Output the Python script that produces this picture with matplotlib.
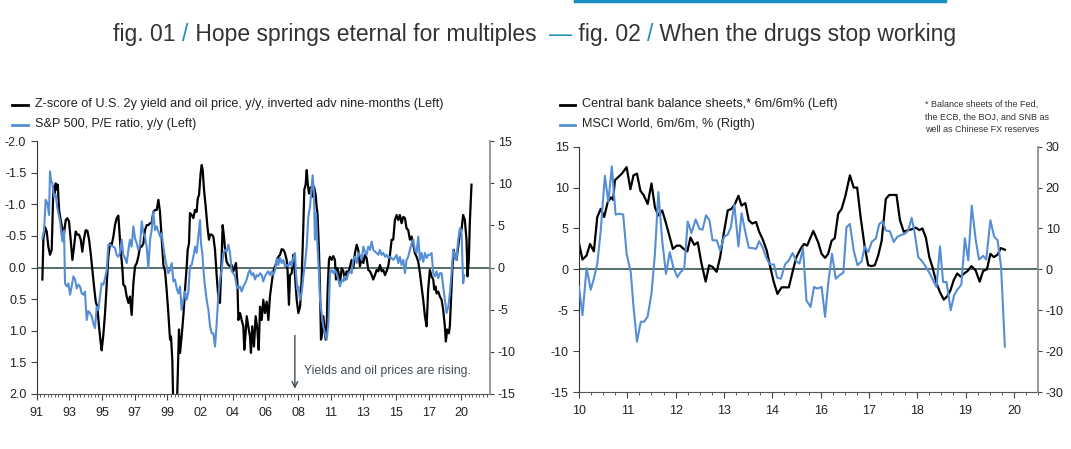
import matplotlib
matplotlib.use("Agg")
import matplotlib.pyplot as plt
from matplotlib.lines import Line2D
from matplotlib.ticker import MultipleLocator, FixedLocator, FormatStrFormatter

plt.rcParams["font.family"] = ["Liberation Sans", "DejaVu Sans"]
plt.rcParams["axes.unicode_minus"] = False

# ---------------- fig. 01 data (x = months counted from the "91" label) ----------------
zscore_month = [
    4.7, 5.5, 6.9, 8.3, 9.6, 11.0, 12.4, 13.8, 14.6, 15.7, 16.5, 17.4, 18.5, 19.8, 21.2, 22.6,
    24.0, 25.3, 26.7, 28.1, 29.5, 30.9, 32.2, 33.6, 35.0, 36.4, 37.7, 39.1, 40.5, 41.9, 43.3,
    44.6, 46.0, 47.4, 48.8, 50.1, 51.5, 52.9, 53.7, 55.1, 56.5, 57.9, 59.2, 60.6, 62.0, 63.4,
    64.7, 66.1, 67.5, 68.3, 69.4, 70.8, 71.6, 73.0, 74.4, 75.8, 77.1, 78.5, 79.9, 81.3, 82.7,
    84.0, 85.4, 86.8, 88.2, 89.5, 90.9, 92.3, 93.7, 95.0, 96.4, 97.8, 99.2, 100.6, 101.9, 103.3,
    104.7, 106.1, 107.4, 108.8, 110.2, 111.0, 112.1, 113.0, 114.3, 115.7, 116.5, 117.6, 118.5,
    119.8, 121.2, 122.6, 124.0, 124.8, 125.9, 126.7, 128.1, 129.5, 130.9, 132.2, 133.1, 134.2,
    135.5, 136.4, 137.2, 138.3, 139.7, 141.1, 142.4, 143.3, 144.6, 146.0, 147.4, 148.8, 150.1,
    151.5, 152.9, 153.7, 154.8, 155.7, 157.0, 158.4, 159.8, 161.2, 162.5, 163.9, 164.7, 165.9,
    166.7, 168.1, 169.4, 170.8, 171.6, 172.7, 173.6, 174.9, 176.3, 177.1, 178.2, 179.6, 181.0,
    182.4, 183.5, 184.6, 186.0, 187.3, 188.7, 190.1, 191.5, 192.8, 194.2, 195.6, 197.0, 198.4,
    199.7, 201.1, 202.5, 203.9, 205.2, 206.6, 207.4, 208.5, 209.4, 210.8, 212.1, 213.0, 214.1,
    214.9, 216.3, 217.7, 219.0, 220.4, 221.2, 222.3, 223.2, 224.0, 225.1, 225.9, 227.3, 228.1,
    229.2, 230.6, 231.4, 232.2, 233.3, 234.2, 235.0, 236.1, 236.9, 237.8, 238.9, 239.7, 240.5,
    241.6, 242.4, 243.8, 245.2, 246.5, 247.4, 248.5, 249.3, 250.7, 252.1, 253.5, 254.8, 256.2,
    257.6, 259.0, 260.3, 261.7, 263.1, 264.5, 265.8, 267.2, 268.6, 270.0, 271.3, 272.7, 274.1,
    275.5, 276.9, 278.2, 279.6, 281.0, 282.4, 283.7, 285.1, 286.5, 287.9, 289.2, 290.6, 292.0,
    293.4, 294.7, 296.1, 297.5, 298.9, 300.2, 301.6, 303.0, 304.4, 305.7, 307.1, 308.5, 309.9,
    311.3, 312.6, 314.0, 315.4, 316.8, 318.1, 319.5, 320.9, 322.3, 323.6, 325.0, 326.4, 327.8,
    328.6, 329.7, 330.5, 331.9, 333.3, 334.7, 336.0, 337.4, 338.2, 339.3, 340.7, 341.5, 342.9,
    343.7, 344.8, 345.6, 347.0, 348.4, 349.8, 351.1, 352.5, 353.9, 355.3, 356.1, 357.2, 358.0,
    359.4,
]
zscore_value = [
    0.19, -0.44, -0.64, -0.57, -0.33, -0.20, -0.28, -1.28, -1.17, -1.33, -1.23, -1.31, -0.91,
    -0.75, -0.62, -0.54, -0.75, -0.78, -0.73, -0.44, -0.12, -0.33, -0.57, -0.52, -0.52, -0.44,
    -0.25, -0.46, -0.59, -0.58, -0.44, -0.23, 0.04, 0.30, 0.54, 0.62, 0.93, 1.19, 1.31, 1.06,
    0.72, 0.25, -0.17, -0.38, -0.36, -0.49, -0.67, -0.78, -0.82, -0.59, -0.28, 0.01, 0.27, 0.30,
    0.46, 0.56, 0.46, 0.75, 0.25, -0.02, -0.07, -0.17, -0.33, -0.33, -0.38, -0.59, -0.67, -0.67,
    -0.70, -0.70, -0.88, -0.91, -0.91, -1.07, -0.88, -0.46, -0.04, 0.06, 0.35, 0.72, 1.14, 1.09,
    1.46, 2.30, 2.30, 2.30, 1.77, 0.98, 1.35, 1.09, 0.77, 0.35, -0.02, -0.28, -0.38, -0.86, -0.83,
    -0.78, -0.91, -0.88, -1.09, -1.15, -1.49, -1.62, -1.54, -1.23, -0.96, -0.65, -0.44, -0.52,
    -0.52, -0.49, -0.28, 0.14, 0.46, 0.56, -0.17, -0.67, -0.49, -0.28, -0.09, -0.04, -0.02, -0.04,
    0.06, -0.02, -0.07, 0.25, 0.83, 0.72, 0.83, 0.93, 1.30, 1.04, 0.77, 0.93, 1.09, 1.35, 0.93,
    1.25, 0.77, 0.98, 1.30, 0.62, 0.83, 0.51, 0.72, 0.54, 0.83, 0.46, 0.25, 0.06, -0.02, -0.09,
    -0.17, -0.20, -0.29, -0.28, -0.23, -0.12, 0.06, 0.59, 0.12, 0.09, -0.20, -0.02, 0.30, 0.51,
    0.72, 0.62, 0.19, -0.65, -1.23, -1.31, -1.54, -1.33, -1.17, -1.25, -1.28, -1.12, -1.28,
    -1.15, -0.96, -0.83, -0.28, 0.35, 1.14, 1.04, 0.77, 0.93, 1.14, 0.93, 0.35, -0.12, -0.17,
    -0.12, -0.18, -0.12, 0.19, 0.01, 0.06, 0.25, 0.01, 0.06, 0.19, 0.06, 0.09, -0.02, -0.12,
    0.01, -0.23, -0.36, -0.28, -0.02, -0.15, -0.07, -0.20, -0.15, 0.04, 0.06, 0.12, 0.19, 0.12,
    0.04, 0.06, -0.04, 0.06, 0.04, 0.12, 0.06, -0.02, -0.20, -0.44, -0.44, -0.75, -0.83, -0.75,
    -0.83, -0.70, -0.80, -0.78, -0.62, -0.59, -0.44, -0.49, -0.36, -0.23, -0.17, -0.09, 0.09,
    0.30, 0.51, 0.77, 0.93, 0.35, 0.04, 0.14, 0.19, 0.35, 0.30, 0.41, 0.38, 0.46, 0.51, 0.67,
    0.93, 1.17, 0.98, 1.04, 0.93, 0.30, -0.02, -0.28, -0.17, -0.12, -0.33, -0.54, -0.59, -0.83,
    -0.75, -0.44, 0.14, -0.12, -0.70, -1.31,
]

pe_month = [
    4.7, 6.1, 7.4, 8.8, 10.2, 11.0, 11.8, 12.9, 14.3, 15.7, 17.1, 17.9, 19.3, 20.7, 21.5, 22.6,
    23.4, 24.8, 26.2, 27.6, 28.9, 30.3, 31.7, 33.1, 34.4, 35.8, 37.2, 38.6, 39.9, 41.3, 42.7,
    44.1, 45.5, 46.8, 48.2, 49.6, 51.0, 52.3, 53.7, 55.1, 56.5, 57.9, 59.2, 60.6, 62.0, 63.4,
    64.7, 66.1, 67.5, 68.9, 70.3, 71.6, 73.0, 74.4, 75.8, 77.1, 78.5, 79.9, 81.3, 82.7, 84.0,
    85.4, 86.8, 88.2, 89.5, 90.9, 92.3, 93.7, 95.0, 96.4, 97.8, 99.2, 100.6, 101.9, 103.3, 104.7,
    106.1, 107.4, 108.8, 110.2, 111.6, 113.0, 114.3, 115.7, 117.1, 118.5, 119.8, 121.2, 122.6,
    124.0, 125.4, 126.7, 128.1, 129.5, 130.9, 132.2, 133.6, 135.0, 135.8, 136.9, 137.8, 139.1,
    140.5, 141.9, 143.3, 144.6, 146.0, 147.4, 148.8, 150.1, 151.5, 152.9, 154.3, 155.7, 157.0,
    158.4, 159.8, 161.2, 162.5, 163.9, 165.3, 166.7, 168.1, 169.4, 170.8, 172.2, 173.6, 174.9,
    176.3, 177.7, 179.1, 180.5, 181.8, 183.2, 184.6, 186.0, 187.3, 188.7, 190.1, 191.5, 192.8,
    194.2, 195.6, 197.0, 198.4, 199.7, 201.1, 202.5, 203.9, 205.2, 206.6, 208.0, 209.4, 210.8,
    212.1, 213.5, 214.3, 215.4, 216.3, 217.7, 219.0, 220.4, 221.8, 223.2, 224.5, 225.9, 227.3,
    228.1, 229.2, 230.0, 230.9, 232.0, 233.3, 234.2, 235.5, 236.9, 238.3, 239.7, 241.1, 242.4,
    243.8, 245.2, 246.5, 247.9, 249.3, 250.7, 252.1, 253.5, 254.8, 256.2, 257.6, 259.0, 260.3,
    261.7, 263.1, 264.5, 265.8, 267.2, 268.6, 270.0, 271.3, 272.7, 274.1, 275.5, 276.9, 278.2,
    279.6, 281.0, 282.4, 283.7, 285.1, 286.5, 287.9, 289.2, 290.6, 292.0, 293.4, 294.7, 296.1,
    297.5, 298.9, 300.2, 301.6, 303.0, 304.4, 305.7, 307.1, 308.5, 309.9, 311.3, 312.6, 314.0,
    315.4, 316.8, 318.1, 319.5, 320.9, 322.3, 323.6, 325.0, 326.4, 327.8, 329.2, 330.5, 331.9,
    333.3, 334.7, 336.0, 337.4, 338.8, 340.2, 341.5, 342.9, 344.3, 345.7, 347.0, 348.4, 349.8,
    351.1, 352.5, 353.4,
]
pe_value = [
    -0.46, -0.59, -1.07, -1.02, -0.83, -1.52, -1.38, -1.33, -1.12, -1.15, -0.94, -0.86, -0.73,
    -0.49, -0.41, -0.59, 0.25, 0.30, 0.25, 0.43, 0.30, 0.14, 0.19, 0.33, 0.27, 0.30, 0.41, 0.43,
    0.38, 0.83, 0.69, 0.72, 0.77, 0.88, 0.96, 0.62, 0.67, 0.46, 0.25, 0.27, 0.17, 0.04, -0.36,
    -0.36, -0.34, -0.33, -0.31, -0.20, -0.17, -0.23, -0.44, -0.20, -0.15, -0.07, -0.28, -0.44,
    -0.33, -0.65, -0.46, -0.38, -0.28, -0.36, -0.73, -0.54, -0.49, -0.33, 0.01, -0.44, -0.59,
    -0.88, -0.59, -0.65, -0.57, -0.49, -0.54, -0.33, -0.15, -0.02, 0.09, 0.04, -0.07, 0.22, 0.19,
    0.33, 0.41, 0.30, 0.67, 0.51, 0.38, 0.51, 0.38, -0.02, -0.04, -0.17, -0.33, -0.23, -0.49,
    -0.75, -0.38, -0.23, 0.04, 0.30, 0.51, 0.67, 0.93, 1.04, 1.04, 1.25, 0.88, 0.46, 0.19, 0.04,
    -0.23, -0.28, -0.25, -0.36, -0.23, 0.06, 0.09, 0.14, 0.30, 0.33, 0.30, 0.38, 0.30, 0.25, 0.19,
    0.09, 0.04, 0.12, 0.09, 0.19, 0.12, 0.14, 0.09, 0.12, 0.22, 0.14, 0.09, 0.06, 0.12, 0.06, 0.12,
    0.04, -0.15, -0.04, -0.15, -0.07, -0.12, -0.02, -0.04, -0.02, -0.09, -0.02, -0.15, -0.23,
    0.09, 0.35, 0.30, 0.51, 0.41, 0.14, -0.07, -0.33, -0.80, -0.96, -1.28, -1.46, -1.17, -0.44,
    -0.86, -0.38, 0.09, 0.51, 0.72, 0.93, 1.04, 1.14, 0.88, 0.09, 0.04, 0.09, 0.04, 0.09, 0.19,
    0.30, 0.19, 0.22, 0.14, 0.19, 0.09, 0.06, 0.09, -0.12, -0.17, -0.07, -0.23, -0.20, -0.12,
    -0.33, -0.25, -0.20, -0.33, -0.28, -0.41, -0.28, -0.25, -0.23, -0.20, -0.28, -0.20, -0.23,
    -0.17, -0.20, -0.15, -0.17, -0.15, -0.12, -0.15, -0.20, -0.07, -0.17, -0.04, -0.12, 0.09,
    -0.12, -0.17, -0.28, -0.38, -0.44, -0.28, -0.23, -0.49, -0.12, -0.23, -0.09, -0.23, -0.15,
    -0.20, -0.20, -0.23, 0.09, 0.14, 0.06, 0.17, 0.09, 0.09, 0.30, 0.51, 0.72, 0.62, 0.41, 0.09,
    -0.28, -0.17, -0.12, -0.44, -0.62, -0.59, 0.25, 0.12,
]
fig1_labels = ["91", "93", "95", "97", "99", "02", "04", "06", "08", "11", "13", "15", "17", "20"]

# ---------------- fig. 02 data (x = months counted from the "10" label) ----------------
cb_month = [
    0.0, 1.0, 2.2, 3.2, 4.3, 5.3, 6.3, 7.3, 8.3, 9.3, 9.9, 10.4, 11.4, 12.4, 13.8, 14.9, 15.8,
    16.8, 17.8, 18.7, 19.9, 21.0, 22.0, 23.0, 24.1, 25.1, 26.2, 27.2, 28.3, 29.3, 30.3, 31.4,
    32.3, 33.4, 34.4, 35.5, 36.7, 37.7, 38.7, 39.9, 40.9, 41.9, 43.1, 44.2, 45.2, 46.2, 47.1,
    48.2, 49.2, 50.2, 51.3, 52.2, 53.2, 54.4, 55.3, 56.4, 57.5, 58.7, 59.9, 60.8, 62.0, 63.0,
    64.2, 65.2, 66.1, 67.9, 69.3, 70.3, 71.3, 72.2, 73.2, 74.1, 75.1, 76.1, 77.2, 78.5, 79.6,
    80.6, 81.6, 82.8, 83.8, 84.8, 85.7, 86.7, 87.7, 88.9, 89.9, 91.0, 92.0, 93.0, 94.1, 95.4,
    96.4, 97.6, 98.6, 99.5, 100.5, 101.5, 102.4, 103.6, 104.6, 105.7, 106.7, 107.6, 108.6,
    109.6, 110.6, 111.6, 112.6, 113.7, 114.9, 116.1, 117.1, 118.2, 119.2, 120.2, 121.3, 122.2,
    123.4,
]
cb_value = [
    3.2, 1.2, 1.7, 3.1, 2.2, 6.4, 7.4, 6.4, 8.2, 8.8, 8.5, 10.9, 11.3, 11.7, 12.5, 9.8, 11.5,
    11.7, 9.6, 9.1, 8.0, 10.5, 7.6, 6.6, 7.2, 5.8, 4.1, 2.5, 2.9, 2.9, 2.5, 2.2, 3.9, 3.0, 3.3,
    0.7, -1.5, 0.5, 0.3, -0.3, 1.5, 4.3, 7.2, 7.4, 8.0, 9.0, 7.8, 8.1, 6.0, 5.6, 5.8, 4.6, 3.7,
    2.3, 0.5, -1.5, -3.0, -2.2, -2.2, -2.2, -0.1, 1.5, 2.5, 3.1, 2.9, 4.7, 3.3, 1.9, 1.4, 1.9,
    3.5, 3.8, 6.8, 7.4, 9.0, 11.5, 10.0, 10.0, 6.4, 2.7, 0.5, 0.4, 0.5, 1.7, 3.5, 8.6, 9.1, 9.1,
    9.1, 6.0, 4.6, 4.8, 4.9, 5.1, 4.8, 5.0, 3.9, 1.5, 0.3, -1.7, -2.8, -3.7, -3.3, -2.6, -1.3,
    -0.5, -0.9, -0.5, -0.2, 0.4, -0.1, -1.5, -0.2, 0.0, 1.9, 1.5, 1.8, 2.6, 2.4,
]

msci_month = [
    0.0, 1.0, 2.2, 3.4, 4.3, 5.3, 6.3, 7.5, 8.5, 9.5, 10.6, 11.7, 12.8, 13.8, 15.0, 15.8, 16.8,
    17.9, 18.9, 19.9, 21.0, 22.0, 23.0, 24.1, 25.2, 26.3, 27.3, 28.5, 29.4, 30.5, 31.5, 32.6,
    33.8, 34.9, 35.8, 36.8, 37.8, 38.7, 39.9, 40.9, 42.0, 43.1, 44.0, 45.0, 46.2, 47.1, 48.2,
    49.2, 50.3, 51.3, 52.2, 53.2, 54.4, 55.3, 56.5, 57.4, 58.5, 59.7, 60.8, 61.9, 63.0, 63.9,
    64.9, 65.9, 67.1, 68.1, 69.0, 70.3, 71.3, 72.2, 73.3, 74.4, 75.4, 76.6, 77.5, 78.5, 79.6,
    80.7, 81.9, 82.8, 83.8, 84.9, 86.0, 87.0, 88.0, 88.9, 90.1, 91.2, 92.2, 93.3, 94.4, 95.4,
    96.4, 97.3, 98.3, 99.4, 100.5, 101.7, 102.6, 103.6, 104.6, 105.5, 106.5, 107.7, 108.7,
    109.7, 110.8, 111.8, 112.8, 113.8, 114.9, 115.9, 117.1, 118.0, 119.2, 120.3, 121.3, 122.3,
    123.4,
]
msci_value = [
    -4.3, -11.2, 0.3, -5.0, -2.3, 1.4, 9.5, 22.9, 16.4, 25.2, 13.4, 13.6, 13.4, 3.8, -0.7, -9.2,
    -17.7, -12.8, -12.8, -11.5, -5.9, 3.8, 18.9, 7.1, -1.1, 4.2, 0.6, -1.9, -0.7, 0.2, 11.7, 8.9,
    12.2, 9.9, 9.7, 13.2, 12.0, 7.1, 7.1, 4.6, 7.9, 8.5, 10.3, 15.9, 5.6, 13.7, 9.1, 5.3, 5.2,
    5.0, 6.9, 5.4, 2.6, 1.2, 1.2, -2.0, -2.3, 1.2, 2.2, 4.0, 2.0, 1.4, 5.2, -7.6, -9.2, -4.3,
    -4.7, -4.3, -11.6, -3.5, 3.8, -2.3, -1.5, -0.8, 10.3, 11.1, 4.6, 1.0, 2.0, 5.6, 4.2, 6.8,
    7.5, 11.1, 11.7, 9.5, 9.3, 6.7, 7.9, 8.4, 8.7, 9.5, 12.6, 8.7, 3.0, 2.0, 0.6, -1.1, -2.7,
    -4.3, 5.6, -3.1, -3.1, -10.0, -6.3, -4.9, -3.7, 7.6, 2.2, 15.6, 7.5, 2.4, 3.3, 2.4, 12.0,
    8.0, 7.1, 0.6, -18.9,
]
fig2_labels = ["10", "11", "12", "13", "14", "16", "17", "18", "19", "20"]

# ---------------- styling ----------------
BLACK = "#000000"
BLUE = "#558ed5"
ZERO = "#3b5454"
TEXT = "#222222"
NOTE = "#3d4d55"
ACCENT = "#1b8bc6"
W, H = 1071, 449


def fx(x):
    return x / W


def fy(y):
    return 1 - y / H


fig = plt.figure(figsize=(W / 100, H / 100), dpi=100)


def style_axes(ax, axr):
    for a in (ax, axr):
        a.spines["top"].set_visible(False)
        a.tick_params(axis="both", which="both", direction="out", labelsize=9,
                      colors="#444444", labelcolor=TEXT)
        a.tick_params(axis="both", which="major", length=4, width=0.8)
        a.tick_params(axis="x", which="minor", length=2.5, width=0.6)
    axr.tick_params(axis="y", length=3, pad=2.5)
    ax.spines["right"].set_visible(False)
    axr.spines["left"].set_visible(False)
    axr.spines["bottom"].set_visible(False)
    ax.spines["left"].set_color("#333333")
    ax.spines["bottom"].set_color("#555555")
    axr.spines["right"].set_color("#888888")
    axr.spines["right"].set_linewidth(1.2)
    ax.tick_params(axis="x", pad=5)


# ---------------- fig. 01 ----------------
ax1 = fig.add_axes([fx(36.7), fy(394), fx(490) - fx(36.7), (394 - 141) / H])
ax1r = ax1.twinx()
ax1.axhline(0, color=ZERO, lw=1.2, zorder=1)
ax1.plot(zscore_month, zscore_value, color=BLACK, lw=1.6, zorder=2)
ax1.plot(pe_month, pe_value, color=BLUE, lw=1.5, zorder=3)
ax1.set_xlim(0, 374.7)
ax1.set_ylim(2.0, -2.0)
ax1.yaxis.set_major_locator(MultipleLocator(0.5))
ax1.yaxis.set_major_formatter(FormatStrFormatter("%.1f"))
ax1.xaxis.set_major_locator(FixedLocator([27 * i for i in range(len(fig1_labels))]))
ax1.set_xticklabels(fig1_labels)
ax1.xaxis.set_minor_locator(MultipleLocator(3))
ax1r.set_ylim(-15, 15)
ax1r.yaxis.set_major_locator(MultipleLocator(5))
style_axes(ax1, ax1r)

ax1.annotate("", xy=(213.4, 1.96), xytext=(213.4, 1.03),
             arrowprops=dict(arrowstyle="->", color=NOTE, lw=1.0))
ax1.text(220.6, 1.63, "Yields and oil prices are rising.", fontsize=8.8,
         color=NOTE, va="center", ha="left")

# ---------------- fig. 02 ----------------
ax2 = fig.add_axes([fx(579), fy(392), fx(1038) - fx(579), (392 - 146.7) / H])
ax2r = ax2.twinx()
ax2.axhline(0, color=ZERO, lw=1.2, zorder=1)
ax2.plot(cb_month, cb_value, color=BLACK, lw=1.6, zorder=2)
ax2r.plot(msci_month, msci_value, color=BLUE, lw=1.5)
ax2.set_xlim(0, 133)
ax2.set_ylim(-15, 15)
ax2.yaxis.set_major_locator(MultipleLocator(5))
ax2.xaxis.set_major_locator(FixedLocator([14 * i for i in range(len(fig2_labels))]))
ax2.set_xticklabels(fig2_labels)
ax2.xaxis.set_minor_locator(MultipleLocator(3.5))
ax2r.set_ylim(-30, 30)
ax2r.yaxis.set_major_locator(MultipleLocator(10))
style_axes(ax2, ax2r)

# ---------------- legends ----------------
legend_rows = [
    (12, 28, 35, 104.5, BLACK, "Z-score of U.S. 2y yield and oil price, y/y, inverted adv nine-months (Left)"),
    (12, 28, 35, 124.5, BLUE, "S&P 500, P/E ratio, y/y (Left)"),
    (560, 575, 582, 104.5, BLACK, "Central bank balance sheets,* 6m/6m% (Left)"),
    (560, 575, 582, 124.5, BLUE, "MSCI World, 6m/6m, % (Rigth)"),
]
for x0, x1, xt, y, c, label in legend_rows:
    fig.add_artist(Line2D([fx(x0), fx(x1)], [fy(y), fy(y)], color=c, lw=2,
                          transform=fig.transFigure))
    fig.text(fx(xt), fy(y), label, fontsize=9.1, color=TEXT, va="center", ha="left")

footnote = ["* Balance sheets of the Fed,", "the ECB, the BOJ, and SNB as",
            "well as Chinese FX reserves"]
for i, line in enumerate(footnote):
    fig.text(fx(925), fy(104.4 + 12.7 * i), line, fontsize=6.5, color="#333333",
             va="center", ha="left")

# ---------------- title ----------------
title_parts = [
    ("fig. 01 ", "#333333"), ("/", ACCENT), (" Hope springs eternal for multiples  ", "#333333"),
    ("\u2014", ACCENT), (" fig. 02 ", "#333333"), ("/", ACCENT),
    (" When the drugs stop working", "#333333"),
]
renderer = fig.canvas.get_renderer()
title_texts = []
for s, c in title_parts:
    t = fig.text(0, fy(41), s, color=c, fontsize=16.5, va="baseline", ha="left")
    title_texts.append(t)
widths = [t.get_window_extent(renderer).width for t in title_texts]
x = 535 - sum(widths) / 2
for t, w in zip(title_texts, widths):
    t.set_x(fx(x))
    x += w

fig.add_artist(Line2D([fx(575), fx(945)], [fy(1), fy(1)], color=ACCENT, lw=2.5,
                      transform=fig.transFigure))

fig.savefig("out.png", dpi=100)
